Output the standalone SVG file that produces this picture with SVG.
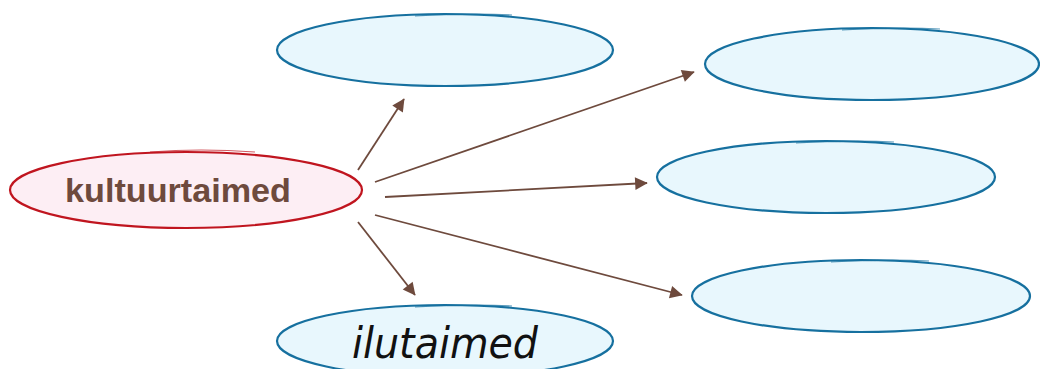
<svg xmlns="http://www.w3.org/2000/svg" width="1040" height="369" viewBox="0 0 1040 369">
<defs>
<style>
.blue{fill:#e8f7fd;stroke:#16709f;stroke-width:2.2}
.pink{fill:#fdeef4;stroke:#c0151f;stroke-width:2.2}
.bs{fill:none;stroke:#16709f;stroke-width:1.2;opacity:0.7}
.ps{fill:none;stroke:#c0151f;stroke-width:1.2;opacity:0.7}
.conn line{stroke:#6e4a3d;stroke-width:1.8;marker-end:url(#ah)}
.t1{font-family:"Comic Sans MS","Liberation Sans",sans-serif;font-weight:bold;font-size:34px;fill:#6e4a3d}
.t2{font-family:"DejaVu Sans",sans-serif;font-style:italic;font-size:42px;fill:#111}
</style>
<marker id="ah" viewBox="0 0 10 10" refX="9" refY="5" markerWidth="7" markerHeight="7" markerUnits="userSpaceOnUse" orient="auto" style="overflow:visible">
<path d="M0,0 L10,5 L0,10 Z" fill="#6e4a3d" transform="scale(1.8) translate(-4.4,-2.2)"/>
</marker>
</defs>
<g class="conn">
<line x1="358" y1="170" x2="404" y2="99"/>
<line x1="375" y1="182" x2="694" y2="72"/>
<line x1="385" y1="197" x2="647" y2="183"/>
<line x1="358" y1="222" x2="415" y2="295"/>
<line x1="375" y1="215" x2="682" y2="295"/>
</g>
<g id="kultuurtaimed">
<ellipse class="pink" cx="186" cy="190" rx="176" ry="38"/>
<path class="ps" d="M150,152 Q200,148 255,152"/>
<text class="t1" x="178" y="202" text-anchor="middle" textLength="226" lengthAdjust="spacingAndGlyphs">kultuurtaimed</text>
</g>
<g id="top">
<ellipse class="blue" cx="445" cy="50" rx="168" ry="36"/>
<path class="bs" d="M415,16 Q470,13 512,15"/>
</g>
<g id="ilutaimed">
<ellipse class="blue" cx="445" cy="341" rx="168" ry="36"/>
<path class="bs" d="M415,307 Q470,304 512,306"/>
<text class="t2" x="445" y="358" text-anchor="middle" textLength="186" lengthAdjust="spacingAndGlyphs">ilutaimed</text>
</g>
<g id="right1">
<ellipse class="blue" cx="872" cy="64" rx="167" ry="36"/>
<path class="bs" d="M842,30 Q897,27 940,29"/>
</g>
<g id="right2">
<ellipse class="blue" cx="826" cy="177" rx="169" ry="36"/>
<path class="bs" d="M796,143 Q851,140 894,142"/>
</g>
<g id="right3">
<ellipse class="blue" cx="861" cy="296" rx="169" ry="36"/>
<path class="bs" d="M831,262 Q886,259 929,261"/>
</g>
</svg>
